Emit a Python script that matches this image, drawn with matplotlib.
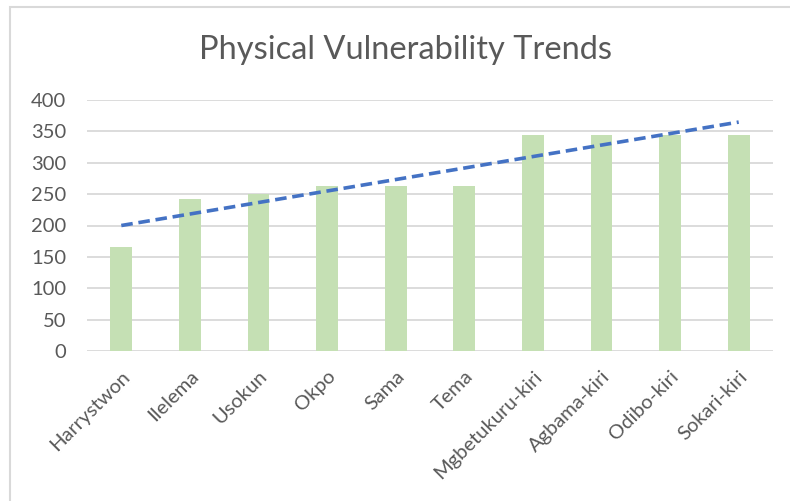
import numpy as np
import matplotlib
matplotlib.use('Agg')
import matplotlib.pyplot as plt
from matplotlib.patches import Rectangle

# Chart data
villages = ['Harrystwon', 'Ilelema', 'Usokun', 'Okpo', 'Sama', 'Tema',
            'Mgbetukuru-kiri', 'Agbama-kiri', 'Odibo-kiri', 'Sokari-kiri']
vulnerability = [166, 243, 250, 263, 263, 263, 344, 344, 344, 344]
y_ticks = [0, 50, 100, 150, 200, 250, 300, 350, 400]

plt.rcParams['font.family'] = ['Lato', 'DejaVu Sans']
text_color = '#595959'

fig = plt.figure(figsize=(7.90, 5.01), dpi=100)
ax = fig.add_axes([87 / 790, 1 - 351 / 501, (773 - 87) / 790, (351 - 100) / 501])

x = np.arange(1, len(villages) + 1)
ax.bar(x, vulnerability, width=0.315, color='#C5E0B4', zorder=2)

# linear trendline fitted to the values
slope, intercept = np.polyfit(x, vulnerability, 1)
ax.plot(x, slope * x + intercept, linestyle=(0, (3.2, 1.6)), color='#4472C4',
        linewidth=2.6, zorder=3)

ax.set_xlim(0.5, len(villages) + 0.5)
ax.set_ylim(0, 400)
ax.set_yticks(y_ticks)
ax.set_xticks(x)
ax.set_xticklabels(villages, rotation=45, ha='right', rotation_mode='anchor')
ax.tick_params(axis='both', length=0, labelsize=14.5, labelcolor=text_color)
ax.tick_params(axis='y', pad=15)
ax.tick_params(axis='x', pad=12)
ax.grid(axis='y', color='#D9D9D9', linewidth=1.3, zorder=0)
for s in ax.spines.values():
    s.set_visible(False)

fig.text(406 / 790, 1 - 50 / 501, 'Physical Vulnerability Trends', ha='center',
         va='center', fontsize=23.5, color=text_color)

# chart border (only left and top edges are inside the picture)
fig.patches.append(Rectangle((10 / 790, -0.1), 1.2, 1 - 7 / 501 + 0.1,
                             transform=fig.transFigure, fill=False,
                             edgecolor='#D9D9D9', linewidth=1.5))

fig.savefig('out.png', dpi=100)
